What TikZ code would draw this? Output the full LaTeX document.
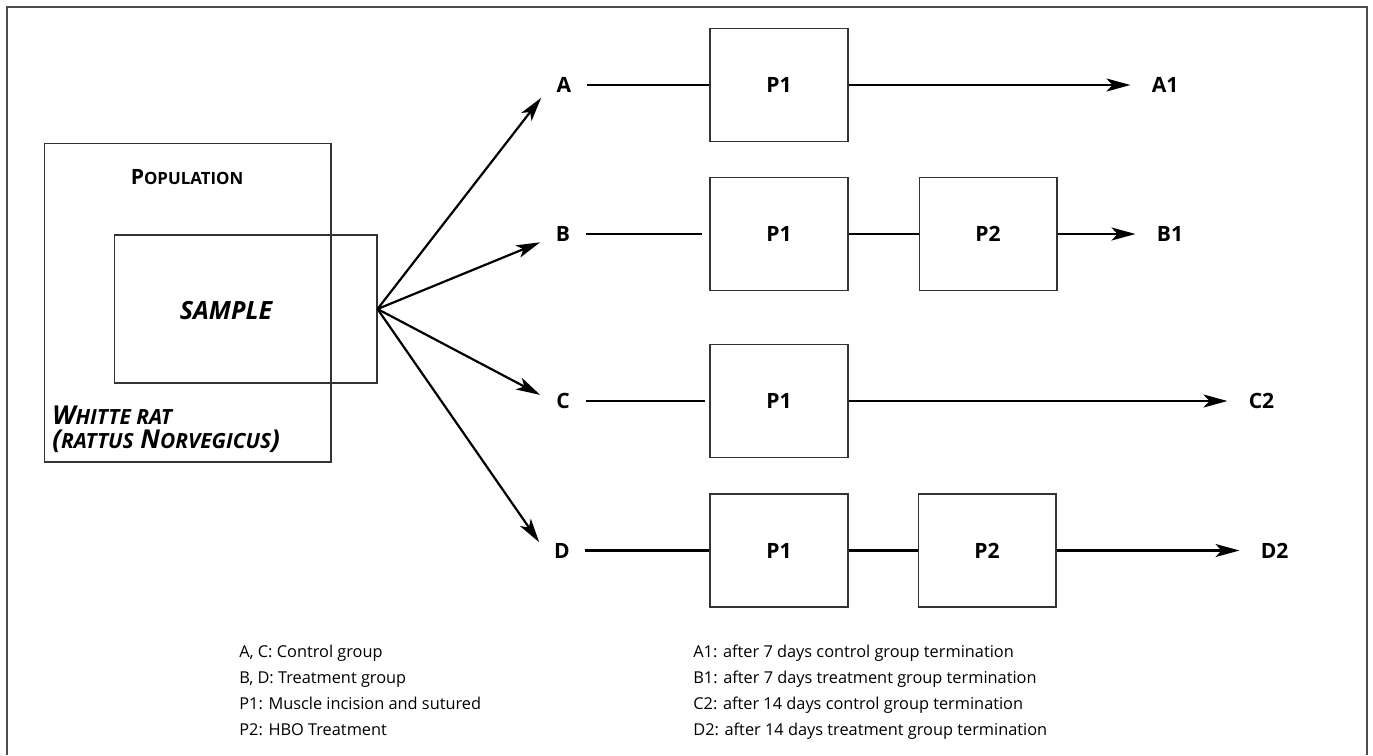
\documentclass[tikz,border=0pt]{standalone}
\usepackage{fontspec}
\setmainfont{Open Sans}
\usetikzlibrary{arrows.meta,positioning}
\newcommand\fakesc[1]{{\fontsize{11.9}{13}\selectfont #1}}
\tikzset{
procbox/.style={draw=black!80,line width=.6pt,minimum width=2.76cm,minimum height=2.26cm,font=\fontsize{12}{14}\selectfont\bfseries},
areabox/.style={draw=black!80,line width=.6pt},
grplabel/.style={minimum width=.9cm,minimum height=.5cm,inner sep=0pt,font=\fontsize{12}{14}\selectfont\bfseries},
endlabel/.style={inner xsep=.42cm,inner ysep=0pt,font=\fontsize{12}{14}\selectfont\bfseries},
title/.style={inner sep=0pt,font=\fontsize{12}{13.6}\selectfont\bfseries},
slanted/.style={title,font=\fontsize{14.3}{13.6}\selectfont\bfseries\itshape},
legend/.style={anchor=base west,inner sep=0pt,font=\fontsize{9.3}{10}\selectfont},
link/.style={line width=1.25pt},
flow/.style={-{Stealth[length=4.8mm,width=2.6mm,inset=1.2mm]},line width=1.25pt}
}
\begin{document}
\begin{tikzpicture}[x=0.02cm,y=-0.02cm]
\useasboundingbox (0,0) rectangle (1373,755);
\draw[black!70,line width=1.1pt] (7,755) -- (7,7) -- (1367,7) -- (1367,755);
% population / sample
\node[areabox,minimum width=5.74cm,minimum height=6.38cm](pop) at (187.5,302.5){};
\node[title](poptxt) at (187,177){P{\fontsize{9.6}{11}\selectfont OPULATION}};
\node[areabox,minimum width=5.26cm,minimum height=2.96cm](smp) at (245.5,309){};
\node[slanted](smptxt) at (226,311){SAMPLE};
\node[slanted,anchor=west,align=left,font=\fontsize{14.8}{13.6}\selectfont\bfseries\itshape](rat) at (52,429){W\fakesc{HITTE RAT}\\(\fakesc{RATTUS} N\fakesc{ORVEGICUS})};
% groups
\node[grplabel](a) at (564,85){A};
\node[grplabel](b) at (563,234){B};
\node[grplabel](c) at (563,401){C};
\node[grplabel](d) at (562,550.5){D};
\node[procbox](p1a) at (779,85){P1};
\node[procbox](p1b) at (779,234){P1};
\node[procbox,right=1.4cm of p1b](p2b){P2};
\node[procbox](p1c) at (779,401){P1};
\node[procbox](p1d) at (779,550.5){P1};
\node[procbox,right=1.38cm of p1d](p2d){P2};
\node[endlabel,right=5.64cm of p1a](a1){A1};
\node[endlabel,right=1.56cm of p2b](b1){B1};
\node[endlabel,right=7.58cm of p1c](c2){C2};
\node[endlabel,right=3.66cm of p2d](d2){D2};
\draw[flow](smp.east)--(a.south west);
\draw[flow](smp.east)--(b.200);
\draw[flow](smp.east)--(c.165);
\draw[flow](smp.east)--(d.160);
\draw[link](a)--(p1a);\draw[flow](p1a)--(a1);
\draw[link,shorten >=.14cm](b)--(p1b);\draw[link](p1b)--(p2b);\draw[flow](p2b)--(b1);
\draw[link,shorten >=.08cm](c)--(p1c);\draw[flow](p1c)--(c2);
\draw[link](d)--(p1d);\draw[link](p1d)--(p2d);\draw[flow](p2d)--(d2);
% legend
\foreach \t [count=\i] in {{A, C: Control group},{B, D: Treatment group},{P1: Muscle incision and sutured},{P2: HBO Treatment}}
  \node[legend](kl\i) at (239,631.5+26*\i){\t};
\foreach \t [count=\i] in {{A1: after 7 days control group termination},{B1: after 7 days treatment group termination},{C2: after 14 days control group termination},{D2: after 14 days treatment group termination}}
  \node[legend](kr\i) at (693,631.5+26*\i){\t};
\end{tikzpicture}
\end{document}
